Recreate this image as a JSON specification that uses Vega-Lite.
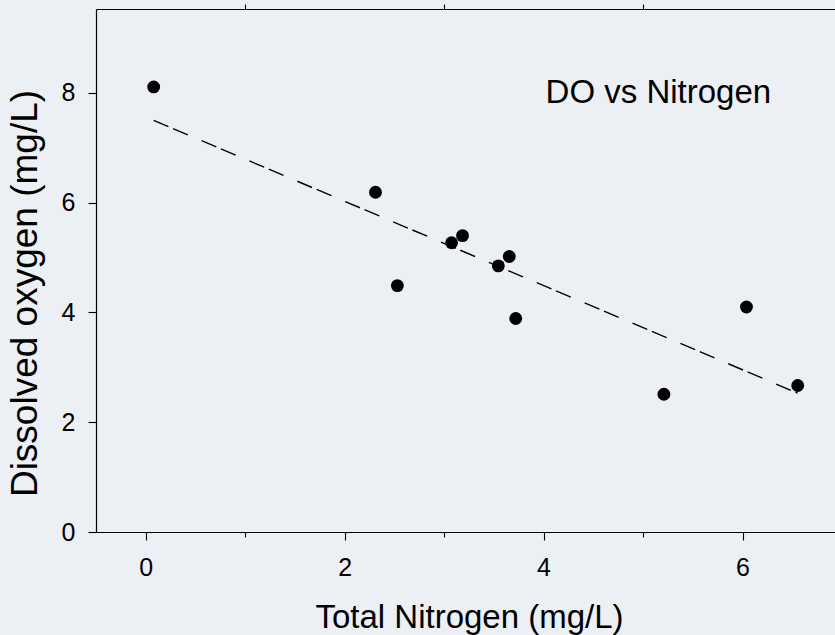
{
  "$schema": "https://vega.github.io/schema/vega-lite/v6.json",
  "autosize": {"type": "none"},
  "padding": {"left": 96, "top": 9, "right": 0, "bottom": 103},
  "width": 739,
  "height": 523,
  "background": "#eceff4",
  "config": {
    "view": {"stroke": null},
    "font": "Liberation Sans",
    "axis": {
      "domainColor": "#000000",
      "domainWidth": 1.2,
      "tickColor": "#000000",
      "tickWidth": 1.1,
      "labelColor": "#000000",
      "titleColor": "#000000",
      "labelFont": "Liberation Sans",
      "titleFont": "Liberation Sans",
      "labelFontSize": 25,
      "titleFontWeight": "normal",
      "grid": false
    }
  },
  "resolve": {"axis": {"x": "independent"}},
  "layer": [
    {
      "data": {"values": [
        {"nitrogen": 0.08, "oxygen": 8.11},
        {"nitrogen": 2.31, "oxygen": 6.19},
        {"nitrogen": 2.53, "oxygen": 4.49},
        {"nitrogen": 3.075, "oxygen": 5.27},
        {"nitrogen": 3.185, "oxygen": 5.40},
        {"nitrogen": 3.545, "oxygen": 4.85},
        {"nitrogen": 3.655, "oxygen": 5.02},
        {"nitrogen": 3.72, "oxygen": 3.89},
        {"nitrogen": 5.21, "oxygen": 2.51},
        {"nitrogen": 6.04, "oxygen": 4.10},
        {"nitrogen": 6.555, "oxygen": 2.67}
      ]},
      "mark": {"type": "point", "shape": "circle", "filled": true, "opacity": 1, "color": "#000000", "size": 165, "strokeWidth": 0},
      "encoding": {
        "x": {
          "field": "nitrogen", "type": "quantitative",
          "scale": {"domain": [-0.5, 6.93], "nice": false, "zero": false},
          "axis": {
            "orient": "bottom", "values": [0, 2, 4, 6], "tickSize": 8, "labelPadding": 15,
            "title": "Total Nitrogen (mg/L)", "titleFontSize": 33,
            "titleX": 373, "titleY": 95, "titleBaseline": "alphabetic", "titleAlign": "center"
          }
        },
        "y": {
          "field": "oxygen", "type": "quantitative",
          "scale": {"domain": [0, 9.53], "nice": false, "zero": false},
          "axis": {
            "orient": "left", "values": [0, 2, 4, 6, 8], "tickSize": 8, "labelPadding": 13,
            "title": "Dissolved oxygen (mg/L)", "titleFontSize": 37,
            "titleX": -60, "titleY": 284, "titleAngle": 270, "titleBaseline": "alphabetic", "titleAlign": "center"
          }
        }
      }
    },
    {
      "data": {"values": [
        {"nitrogen": 0.08, "oxygen": 7.50},
        {"nitrogen": 6.555, "oxygen": 2.53}
      ]},
      "mark": {"type": "line", "color": "#000000", "strokeWidth": 1.4, "strokeDash": [16, 5, 16, 15]},
      "encoding": {
        "x": {
          "field": "nitrogen", "type": "quantitative",
          "scale": {"domain": [-0.5, 6.93], "nice": false, "zero": false},
          "axis": {"orient": "top", "values": [1, 3, 5], "tickSize": 5, "labels": false, "title": null, "domain": true}
        },
        "y": {
          "field": "oxygen", "type": "quantitative",
          "scale": {"domain": [0, 9.53], "nice": false, "zero": false},
          "axis": {
            "orient": "left", "values": [0, 2, 4, 6, 8], "tickSize": 8, "labelPadding": 13,
            "title": "Dissolved oxygen (mg/L)", "titleFontSize": 37,
            "titleX": -60, "titleY": 284, "titleAngle": 270, "titleBaseline": "alphabetic", "titleAlign": "center"
          }
        }
      }
    },
    {
      "data": {"values": [
        {"nitrogen": 4.02, "oxygen": 7.81, "label": "DO vs Nitrogen"}
      ]},
      "mark": {"type": "text", "align": "left", "baseline": "alphabetic", "fontSize": 33, "font": "Liberation Sans", "color": "#000000"},
      "encoding": {
        "x": {
          "field": "nitrogen", "type": "quantitative",
          "scale": {"domain": [-0.5, 6.93], "nice": false, "zero": false},
          "axis": {"orient": "bottom", "values": [1, 3, 5], "tickSize": 5, "labels": false, "title": null, "domain": false}
        },
        "y": {
          "field": "oxygen", "type": "quantitative",
          "scale": {"domain": [0, 9.53], "nice": false, "zero": false},
          "axis": {
            "orient": "left", "values": [0, 2, 4, 6, 8], "tickSize": 8, "labelPadding": 13,
            "title": "Dissolved oxygen (mg/L)", "titleFontSize": 37,
            "titleX": -60, "titleY": 284, "titleAngle": 270, "titleBaseline": "alphabetic", "titleAlign": "center"
          }
        },
        "text": {"field": "label", "type": "nominal"}
      }
    }
  ]
}
